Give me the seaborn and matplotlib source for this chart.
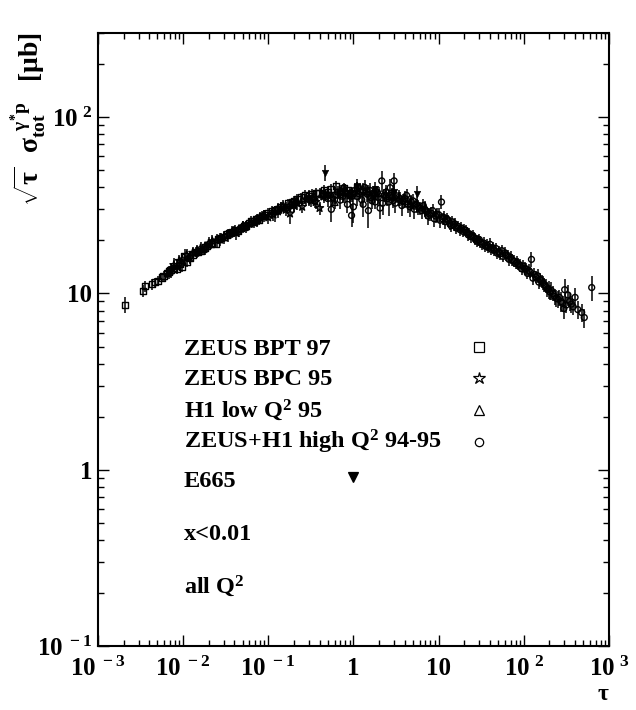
import numpy as np
import pandas as pd
import matplotlib
matplotlib.use('Agg')
import matplotlib.pyplot as plt
import seaborn as sns
from matplotlib.ticker import FixedLocator, FixedFormatter, LogLocator, NullFormatter

# ZEUS BPT 97 (open squares)
bpt_tau = [0.0021, 0.0034, 0.0036, 0.0047, 0.0051, 0.0056, 0.0065, 0.0071, 0.0078, 0.0085,
           0.0104, 0.0112, 0.013, 0.015, 0.017, 0.019, 0.022, 0.026, 0.03, 0.035,
           0.041, 0.048, 0.055, 0.063, 0.072, 0.085, 0.1, 0.12, 0.14, 0.17,
           0.2, 0.24, 0.3, 0.36, 0.45, 0.55, 0.7, 0.85, 1.1, 1.4,
           0.0043, 0.0059, 0.0068, 0.0092, 0.0098, 0.012, 0.014, 0.016, 0.018, 0.021,
           0.024, 0.028, 0.033, 0.038, 0.044, 0.052, 0.059, 0.068, 0.078, 0.092,
           0.11, 0.13, 0.16, 0.19, 0.22, 0.27, 0.33, 0.4, 0.5, 0.62, 0.78, 0.95]
bpt_val = [8.6, 10.3, 11.0, 11.6, 11.8, 12.3, 13.1, 13.6, 14.0, 13.8,
           16.2, 15.0, 16.6, 17.1, 17.8, 18.5, 19.4, 20.3, 21.0, 22.0,
           23.0, 23.5, 24.2, 25.8, 26.3, 27.5, 28.7, 29.5, 31.0, 32.5,
           33.6, 35.0, 35.8, 37.0, 38.5, 39.0, 37.5, 38.8, 40.0, 38.2,
           11.3, 12.6, 13.3, 14.8, 14.2, 15.9, 17.2, 17.4, 18.2, 19.0,
           19.2, 20.6, 21.6, 22.2, 22.6, 24.0, 25.0, 25.6, 26.0, 27.8,
           29.3, 30.2, 31.0, 32.8, 34.5, 36.0, 36.6, 37.2, 37.8, 40.5, 39.5, 37.0]
bpt_err = [0.9, 0.8, 0.8, 0.7, 0.7, 0.7, 0.8, 0.8, 0.8, 0.8,
           1.6, 0.9, 1.0, 1.0, 1.0, 1.1, 1.1, 1.2, 1.2, 1.3,
           1.4, 1.4, 1.5, 1.6, 1.6, 1.7, 1.8, 1.8, 2.0, 2.0,
           2.1, 2.2, 2.2, 2.4, 2.5, 2.5, 2.5, 2.6, 2.8, 2.8,
           0.8, 0.8, 0.9, 1.0, 1.0, 1.0, 1.1, 1.1, 1.1, 1.2,
           1.2, 1.3, 1.3, 1.4, 1.4, 1.5, 1.6, 1.6, 1.7, 1.8,
           1.9, 2.0, 2.1, 2.2, 2.3, 2.4, 2.5, 2.6, 2.7, 2.8, 2.9, 3.0]

# ZEUS BPC 95 (open stars)
bpc_tau = [0.0068, 0.0078, 0.009, 0.011, 0.013, 0.016, 0.02, 0.025, 0.03, 0.038, 0.045, 0.055,
           0.068, 0.08, 0.1, 0.13, 0.16, 0.18, 0.2, 0.25, 0.32, 0.4, 0.5,
           0.0072, 0.0085, 0.0098, 0.012, 0.0145, 0.018, 0.022, 0.027, 0.034, 0.042, 0.05, 0.06,
           0.074, 0.09, 0.115, 0.14, 0.22, 0.28, 0.36, 0.45, 0.58, 0.7, 0.9]
bpc_val = [13.2, 14.5, 15.3, 16.5, 17.0, 18.0, 19.2, 20.0, 20.8, 22.3, 22.8, 23.9,
           25.5, 26.8, 27.0, 29.2, 29.8, 28.4, 31.5, 31.0, 33.5, 30.5, 36.0,
           13.5, 14.2, 15.6, 16.0, 17.4, 18.0, 19.8, 20.2, 21.5, 22.0, 24.0, 24.8,
           26.0, 27.5, 28.0, 30.5, 32.5, 34.0, 33.0, 35.5, 34.5, 37.0, 36.0]
bpc_err = [1.2, 1.3, 1.3, 1.4, 1.4, 1.5, 1.6, 1.6, 1.7, 1.8, 1.8, 1.9,
           2.0, 2.1, 2.1, 2.3, 2.4, 3.5, 2.5, 2.5, 2.7, 2.6, 2.9,
           1.2, 1.3, 1.4, 1.4, 1.5, 1.5, 1.6, 1.7, 1.8, 1.8, 1.9, 2.0,
           2.1, 2.2, 2.3, 2.4, 2.6, 2.7, 2.8, 3.0, 3.0, 3.2, 3.2]

# H1 low Q2 95 (open triangles)
h1_tau = [0.04, 0.06, 0.09, 0.13, 0.18, 0.25, 0.35, 0.5, 0.6, 0.8, 1.1, 1.5, 2.0, 2.8, 4.0, 5.5,
          0.05, 0.075, 0.11, 0.15, 0.21, 0.3, 0.42, 0.7, 0.95, 1.3, 1.8, 2.4, 3.4, 4.7, 7.0]
h1_val = [22.5, 25.0, 27.8, 30.5, 32.0, 34.0, 35.5, 37.0, 33.0, 38.5, 39.5, 38.0, 37.0, 35.5, 33.5, 31.5,
          24.0, 26.5, 28.5, 31.5, 33.0, 35.0, 36.5, 38.0, 36.0, 39.0, 37.5, 36.5, 34.5, 32.5, 30.5]
h1_err = [1.5, 1.6, 1.8, 2.0, 2.2, 2.4, 2.6, 2.8, 2.8, 3.0, 3.2, 3.2, 3.2, 3.0, 3.0, 3.0,
          1.6, 1.8, 2.0, 2.2, 2.4, 2.5, 2.7, 3.0, 3.0, 3.2, 3.2, 3.2, 3.0, 3.0, 3.0]

# ZEUS+H1 high Q2 94-95 (open circles)
hq_tau = [0.35, 0.45, 0.55, 0.65, 0.75, 0.85, 0.95, 1.0, 1.05, 1.15, 1.25, 1.35, 1.5, 1.6, 1.7,
          1.8, 1.9, 2.05, 2.15, 2.3, 2.5, 2.7, 2.9, 3.0, 3.2, 3.5, 3.8, 4.2, 4.6, 5.0,
          5.5, 6.0, 6.6, 7.2, 7.8, 8.5, 9.2, 10.0, 10.8, 11.5, 12.5, 13.5, 14.5, 15.5, 17,
          18.5, 20, 21.5, 23, 25, 27, 29, 31, 34, 37, 40, 43, 47, 51, 55,
          60, 65, 70, 76, 83, 90, 98, 106, 115, 123, 133, 145, 155, 168, 180,
          195, 210, 230, 250, 275, 295, 302, 330, 363, 400, 478, 513, 627,
          0.5, 0.6, 0.7, 0.8, 0.9, 1.1, 1.2, 1.3, 1.45, 1.55, 1.65, 1.75, 1.95, 2.2, 2.4,
          2.6, 2.8, 3.1, 3.4, 3.7, 4.0, 4.4, 4.8, 5.2, 5.8, 6.3, 6.9, 7.5, 8.2, 8.9,
          9.6, 10.4, 11.2, 12.0, 13.0, 14.0, 15.0, 16.2, 17.8, 19.2, 20.8, 22.2, 24, 26, 28,
          30, 32.5, 35.5, 38.5, 41.5, 45, 49, 53, 57, 62, 67, 73, 80, 86, 94,
          102, 110, 119, 128, 139, 150, 162, 174, 188, 202, 220, 240, 262, 285, 315,
          345, 380, 430]
hq_val = [33.5, 36.5, 30.0, 37.5, 35.5, 32.0, 27.7, 31.0, 38.5, 36.8, 34.0, 40.0, 29.5, 35.0, 37.0,
          33.0, 37.5, 30.5, 43.5, 36.0, 34.5, 39.8, 33.5, 43.5, 35.8, 34.5, 33.5, 36.0, 31.0, 33.5,
          32.0, 30.5, 31.5, 29.0, 28.2, 29.5, 27.5, 28.0, 33.0, 27.0, 26.5, 25.0, 25.5, 24.8, 24.0,
          23.5, 23.0, 22.2, 21.8, 21.2, 20.5, 20.0, 19.6, 19.3, 18.8, 19.0, 18.2, 18.0, 17.2, 17.5,
          17.0, 16.4, 16.0, 15.3, 15.0, 14.5, 14.3, 13.8, 13.5, 15.6, 12.8, 12.6, 12.0, 11.5, 11.0,
          10.5, 10.4, 9.6, 9.3, 9.0, 8.2, 10.5, 9.8, 8.7, 9.5, 7.8, 7.3, 10.8,
          34.5, 36.0, 33.8, 37.0, 36.0, 35.5, 38.0, 32.0, 36.5, 38.5, 33.5, 36.5, 35.0, 32.5, 37.5,
          33.0, 36.0, 32.5, 35.0, 31.5, 34.5, 32.0, 33.0, 30.0, 31.0, 29.5, 30.0, 27.5, 28.5, 26.5,
          28.0, 26.0, 26.5, 25.5, 25.8, 24.2, 24.5, 23.5, 23.0, 22.5, 22.8, 21.5, 21.0, 20.8, 19.8,
          20.2, 19.0, 18.5, 18.3, 17.8, 17.6, 16.9, 16.8, 16.2, 16.5, 15.6, 15.5, 14.8, 14.7, 13.8,
          13.9, 13.0, 13.2, 12.2, 12.4, 11.6, 11.8, 11.2, 10.6, 10.2, 10.0, 9.4, 9.5, 8.8, 8.6,
          9.0, 8.4, 8.1]
hq_err = [3.0, 3.0, 4.5, 3.0, 3.0, 3.5, 4.0, 6.0, 3.5, 3.0, 3.0, 4.0, 6.0, 3.0, 3.0,
          3.0, 3.0, 4.0, 6.0, 3.0, 3.0, 5.0, 3.0, 5.0, 3.0, 3.0, 3.0, 3.0, 4.0, 3.0,
          2.5, 2.5, 3.0, 2.5, 2.5, 2.5, 2.5, 2.5, 3.0, 2.2, 2.0, 2.0, 2.0, 2.0, 1.8,
          1.8, 1.8, 1.7, 1.7, 1.6, 1.6, 1.5, 1.5, 1.5, 1.5, 1.5, 1.4, 1.4, 1.4, 1.4,
          1.3, 1.3, 1.3, 1.2, 1.2, 1.2, 1.2, 1.1, 1.1, 1.5, 1.1, 1.1, 1.1, 1.0, 1.0,
          1.2, 1.2, 1.0, 1.0, 1.2, 1.0, 1.5, 1.3, 1.0, 1.2, 0.9, 0.9, 1.8,
          3.5, 4.0, 3.5, 4.5, 3.5, 4.0, 3.5, 5.0, 3.5, 4.0, 3.5, 4.0, 3.5, 4.5, 3.5,
          5.5, 3.5, 4.0, 3.5, 4.0, 3.5, 3.5, 3.0, 3.5, 3.0, 3.0, 2.8, 3.0, 2.6, 2.8,
          2.5, 2.4, 2.2, 2.2, 2.0, 2.0, 1.9, 1.8, 1.8, 1.7, 1.7, 1.6, 1.6, 1.5, 1.5,
          1.5, 1.4, 1.4, 1.4, 1.3, 1.3, 1.3, 1.3, 1.2, 1.2, 1.2, 1.2, 1.1, 1.1, 1.1,
          1.1, 1.0, 1.0, 1.0, 1.0, 1.0, 1.0, 1.0, 1.0, 1.0, 1.0, 1.0, 1.0, 0.9, 0.9,
          1.0, 0.9, 0.9]

# E665 (filled down triangles)
e665_tau = [0.12, 0.2, 0.3, 0.46, 0.75, 1.1, 1.8, 3.0, 5.5]
e665_val = [28.5, 32.0, 35.0, 48.5, 38.0, 40.5, 39.0, 37.5, 36.5]
e665_err = [3.0, 3.0, 3.5, 5.0, 4.0, 4.0, 4.0, 4.0, 4.0]

x_ticks = [1e-3, 1e-2, 1e-1, 1, 10, 1e2, 1e3]
x_tick_labels = [r'$10^{\ -3}$', r'$10^{\ -2}$', r'$10^{\ -1}$', '1', '10', r'$10^{\ 2}$', r'$10^{\ 3}$']
y_ticks = [1e-1, 1, 10, 1e2]
y_tick_labels = [r'$10^{\ -1}$', '1', '10', r'$10^{\ 2}$']

sns.set_theme(style='ticks')
plt.rcParams['font.family'] = ['Liberation Serif', 'DejaVu Serif']
plt.rcParams['font.weight'] = 'bold'
plt.rcParams['text.color'] = 'black'
plt.rcParams['mathtext.fontset'] = 'custom'
plt.rcParams['mathtext.rm'] = 'Liberation Serif:bold'
plt.rcParams['mathtext.bf'] = 'Liberation Serif:bold'
plt.rcParams['mathtext.it'] = 'Liberation Serif:bold'

sets = [
    ('ZEUS BPT 97', bpt_tau, bpt_val, bpt_err, 's', 20),
    ('ZEUS BPC 95', bpc_tau, bpc_val, bpc_err, '*', 36),
    ('H1 low Q2 95', h1_tau, h1_val, h1_err, '^', 24),
    ('ZEUS+H1 high Q2 94-95', hq_tau, hq_val, hq_err, 'o', 18),
]

fig = plt.figure(figsize=(6.36, 7.10), dpi=100)
ax = fig.add_axes([0.154, 0.0901, 0.8035, 0.8634])

for name, tau, val, err, mk, size in sets:
    df = pd.DataFrame({'tau': tau, 'val': val, 'err': err})
    ax.errorbar(df['tau'], df['val'], yerr=df['err'], fmt='none', ecolor='black',
                elinewidth=1.1, capsize=0, zorder=2)
    sns.scatterplot(data=df, x='tau', y='val', marker=mk, s=size, facecolor='none',
                    edgecolor='black', linewidth=1.0, ax=ax, zorder=3, legend=False)

df_e = pd.DataFrame({'tau': e665_tau, 'val': e665_val, 'err': e665_err})
ax.errorbar(df_e['tau'], df_e['val'], yerr=df_e['err'], fmt='none', ecolor='black',
            elinewidth=1.1, capsize=0, zorder=2)
sns.scatterplot(data=df_e, x='tau', y='val', marker='v', s=22, color='black',
                edgecolor='black', ax=ax, zorder=3, legend=False)

ax.set_xscale('log')
ax.set_yscale('log')
ax.set_xlim(1e-3, 1e3)
ax.set_ylim(0.1, 300)

ax.xaxis.set_major_locator(FixedLocator(x_ticks))
ax.xaxis.set_major_formatter(FixedFormatter(x_tick_labels))
ax.yaxis.set_major_locator(FixedLocator(y_ticks))
ax.yaxis.set_major_formatter(FixedFormatter(y_tick_labels))
ax.xaxis.set_minor_locator(LogLocator(base=10, subs=np.arange(2, 10), numticks=20))
ax.yaxis.set_minor_locator(LogLocator(base=10, subs=np.arange(2, 10), numticks=20))
ax.xaxis.set_minor_formatter(NullFormatter())
ax.yaxis.set_minor_formatter(NullFormatter())

ax.tick_params(which='both', direction='in', top=True, right=True, width=1, colors='black')
ax.tick_params(which='major', length=8, labelsize=18)
ax.tick_params(axis='x', which='major', pad=8)
ax.tick_params(axis='y', which='major', pad=4)
ax.tick_params(which='minor', length=4)
for sp in ax.spines.values():
    sp.set_linewidth(1.5)
    sp.set_color('black')
ax.set_xlabel('')
ax.set_ylabel('')

# legend block drawn as text + markers
fs = 17.5
fig.text(0.289, 0.500, 'ZEUS BPT 97', fontsize=fs, va='baseline')
fig.text(0.289, 0.4577, 'ZEUS BPC 95', fontsize=fs, va='baseline')
fig.text(0.289, 0.4127, r'H1 low Q$^{2}$ 95', fontsize=fs, va='baseline')
fig.text(0.289, 0.369, r'ZEUS+H1 high Q$^{2}$ 94-95', fontsize=fs, va='baseline')
fig.text(0.289, 0.314, 'E665', fontsize=fs, va='baseline')
fig.text(0.289, 0.2394, 'x<0.01', fontsize=fs, va='baseline')
fig.text(0.289, 0.1648, r'all Q$^{2}$', fontsize=fs, va='baseline')

legend_marks = [('s', 7, 0.511, 0.753, 'none'), ('*', 9, 0.468, 0.753, 'none'),
                ('^', 7, 0.4225, 0.753, 'none'), ('o', 6, 0.377, 0.753, 'none'),
                ('v', 6.5, 0.328, 0.555, 'black')]
for mk, ms, yy, xx, fc in legend_marks:
    fig.lines.append(plt.Line2D([xx], [yy], marker=mk, markersize=ms, markerfacecolor=fc,
                                markeredgecolor='black', markeredgewidth=0.9,
                                linestyle='none', transform=fig.transFigure, figure=fig))

fig.text(0.045, 0.955, r'$\sqrt{\tau}\ \ \sigma_{tot}^{\ \gamma^{*}p}$   [$\mu$b]', rotation=90,
         ha='center', va='top', fontsize=20)
fig.text(0.948, 0.022, 'τ', fontsize=17, ha='center', va='center')

plt.savefig('out.png', dpi=100)
